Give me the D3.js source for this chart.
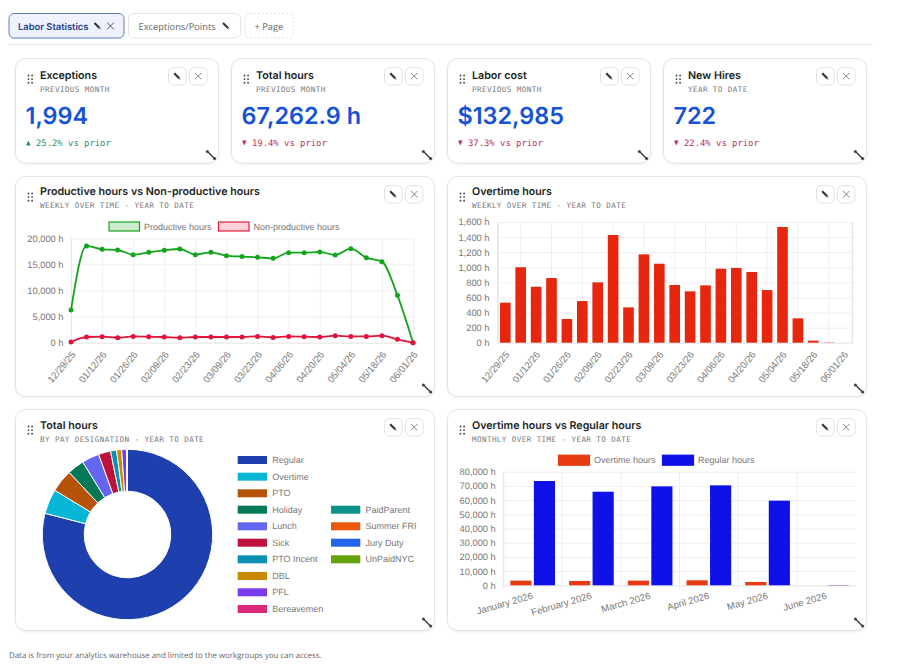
<!DOCTYPE html>
<html><head><meta charset="utf-8">
<script src="https://cdn.jsdelivr.net/npm/d3@7"></script>
<style>
html,body{margin:0;padding:0;background:#fff}
svg{display:block;text-rendering:geometricPrecision}
.ttl{font-family:Inter,"Open Sans",sans-serif;font-weight:600;fill:#1c1f26}
.sub{font-family:"DejaVu Sans Mono",monospace;fill:#77777a}
.ax text,.lg{font-family:"Liberation Sans",Arial,sans-serif;fill:#777}
</style></head><body>
<svg id="c" width="906" height="668"></svg>
<script>
const kpiTitles=["Exceptions","Total hours","Labor cost","New Hires"];
const kpiSubs=["PREVIOUS MONTH","PREVIOUS MONTH","PREVIOUS MONTH","YEAR TO DATE"];
const kpiValues=["1,994","67,262.9 h","$132,985","722"];
const kpiDeltas=["25.2% vs prior","19.4% vs prior","37.3% vs prior","22.4% vs prior"];
const kpiUp=[true,false,false,false];

const weeks=["12/29/25","01/05/26","01/12/26","01/19/26","01/26/26","02/02/26","02/09/26","02/16/26","02/23/26","03/02/26","03/09/26","03/16/26","03/23/26","03/30/26","04/06/26","04/13/26","04/20/26","04/27/26","05/04/26","05/11/26","05/18/26","05/25/26","06/01/26"];
const productive=[6260,18530,17890,17760,16870,17320,17700,17950,16870,17320,16680,16490,16360,16170,17250,17250,17380,16800,18020,16290,15530,9070,0];
const nonProductive=[130,1090,1150,960,1210,1150,1090,960,1090,1090,1090,1090,1210,1020,1210,1150,1090,1340,1210,1210,1340,640,0];
const overtimeWeekly=[530,1000,742,857,314,552,800,1428,468,1171,1047,765,681,760,981,990,937,698,1534,323,27,4,0];

const payTypes=["Regular","Overtime","PTO","Holiday","Lunch","Sick","PTO Incent","DBL","PFL","Bereavemen","PaidParent","Summer FRI","Jury Duty","UnPaidNYC"];
const payHours=[79.0,4.7,4.3,3.2,3.3,2.3,1.15,0.95,0.9,0.1,0.05,0.03,0.01,0.01];
const payColors=["#1e40af","#06b6d4","#b45309","#047857","#6366f1","#be123c","#0891b2","#ca8a04","#7c3aed","#db2777","#0d9488","#ea580c","#2563eb","#65a30d"];

const months=["January 2026","February 2026","March 2026","April 2026","May 2026","June 2026"];
const overtimeMonthly=[3300,3050,3300,3500,2350,0];
const regularMonthly=[73440,65900,69680,70400,59600,200];

const svg=d3.select("#c");
const hfmt=d=>d3.format(",")(d)+" h";

function pencil(g,cx,cy){
  g.append("line").attr("x1",cx-3).attr("y1",cy-3).attr("x2",cx+2.5).attr("y2",cy+2.5)
   .attr("stroke","#2a2d33").attr("stroke-width",2);
  g.append("path").attr("d",`M${cx+2},${cy+1} L${cx+4},${cy+4} L${cx+1},${cy+2} Z`).attr("fill","#999");
}
function cross(g,cx,cy,s,col){
  g.append("path").attr("d",`M${cx-s},${cy-s}L${cx+s},${cy+s}M${cx+s},${cy-s}L${cx-s},${cy+s}`)
   .attr("stroke",col).attr("stroke-width",1).attr("fill","none");
}
function card(x,y,w,h,title,sub,ty){
  const g=svg.append("g");
  g.append("rect").attr("x",x+.5).attr("y",y+.5).attr("width",w).attr("height",h).attr("rx",10)
   .attr("fill","#fff").attr("stroke","#e3e3e3").style("filter","drop-shadow(0 1px 1px rgba(0,0,0,.07))");
  for(let i=0;i<2;i++)for(let j=0;j<3;j++)
    g.append("circle").attr("cx",x+13.5+i*3.6).attr("cy",y+17.5+j*3.6).attr("r",.95).attr("fill","#4a4a4a");
  g.append("text").attr("class","ttl").attr("x",x+25).attr("y",y+20+ty).attr("font-size",10.7).text(title);
  g.append("text").attr("class","sub").attr("x",x+25).attr("y",y+32.7+ty).attr("font-size",7.6).attr("letter-spacing",.4).text(sub);
  const r=x+w;
  [[r-49.5,true],[r-28.5,false]].forEach(([bx,isPen])=>{
    g.append("rect").attr("x",bx).attr("y",y+9.5).attr("width",17.5).attr("height",17.5).attr("rx",5)
     .attr("fill","#fff").attr("stroke","#e2e2e2");
    if(isPen)pencil(g,bx+8.7,y+18.2);else cross(g,bx+8.7,y+18.2,3.2,"#888");
  });
  const cx=r-7,cy=y+h-7.5;
  g.append("line").attr("x1",cx-3.5).attr("y1",cy-3.5).attr("x2",cx+3.5).attr("y2",cy+3.5).attr("stroke","#444").attr("stroke-width",1.5);
  [[-3.6,-3.6],[3.6,3.6]].forEach(([a,b])=>g.append("circle").attr("cx",cx+a).attr("cy",cy+b).attr("r",1.5).attr("fill","#444"));
  return g;
}
function yAxis(sel,x0,x1,y,vals){
  const grid=sel.append("g").attr("transform",`translate(${x0},0)`)
    .call(d3.axisLeft(y).tickValues(vals).tickSize(-(x1-x0)).tickFormat(""));
  grid.select(".domain").remove();
  grid.selectAll("line").attr("stroke","#efefef");
  const a=sel.append("g").attr("class","ax").attr("transform",`translate(${x0},0)`)
    .call(d3.axisLeft(y).tickValues(vals).tickSize(0).tickPadding(7.5).tickFormat(hfmt));
  a.select(".domain").attr("stroke","#e8e8e8");
  a.selectAll("text").attr("font-size",9.3);
}
function rotatedLabels(sel,scale,vals,y0,rot,fs,dx,dy){
  const a=sel.append("g").attr("class","ax").attr("transform",`translate(0,${y0})`)
    .call(d3.axisBottom(scale).tickValues(vals).tickSize(0));
  a.select(".domain").remove();
  a.selectAll("text").attr("font-size",fs).attr("text-anchor","end").attr("y",0).attr("dy","0.35em")
   .attr("transform",`translate(${dx},${dy}) rotate(${rot})`);
}
function vGrid(sel,scale,vals,y0,h){
  const a=sel.append("g").attr("transform",`translate(0,${y0})`)
    .call(d3.axisBottom(scale).tickValues(vals).tickSize(-h).tickFormat(""));
  a.select(".domain").attr("stroke","#ddd");
  a.selectAll("line").attr("stroke","#efefef");
}
function legendItem(g,x,y,w,h,stroke,fill,label,fs){
  g.append("rect").attr("x",x).attr("y",y).attr("width",w).attr("height",h).attr("fill",fill).attr("stroke",stroke).attr("stroke-width",1.2);
  g.append("text").attr("class","lg").attr("x",x+w+4.5).attr("y",y+h/2).attr("dy",".35em").attr("font-size",fs).text(label);
}

// ---------- tabs
const tabs=svg.append("g");
tabs.append("rect").attr("x",9).attr("y",13.5).attr("width",115).attr("height",24.5).attr("rx",5).attr("fill","#eef2fd").attr("stroke","#5f7fb8");
tabs.append("text").attr("x",18).attr("y",29.5).attr("font-family","Inter,sans-serif").attr("font-weight",600).attr("font-size",9.4).attr("fill","#27408f").text("Labor Statistics");
pencil(tabs,97.5,26);cross(tabs,110.5,26,3.3,"#555");
tabs.append("rect").attr("x",128.5).attr("y",13.5).attr("width",112).attr("height",24.5).attr("rx",5).attr("fill","#fff").attr("stroke","#e3e3e3");
tabs.append("text").attr("x",138.5).attr("y",29.5).attr("font-family","'Open Sans',sans-serif").attr("font-size",9.3).attr("fill","#666").text("Exceptions/Points");
pencil(tabs,226,26);
tabs.append("rect").attr("x",245).attr("y",13.5).attr("width",48).attr("height",24.5).attr("rx",5).attr("fill","#fff").attr("stroke","#ddd").attr("stroke-dasharray","2 2");
tabs.append("text").attr("x",254.5).attr("y",29.5).attr("font-family","'Open Sans',sans-serif").attr("font-size",9.3).attr("fill","#666").text("+ Page");
tabs.append("line").attr("x1",8).attr("x2",873).attr("y1",44.5).attr("y2",44.5).attr("stroke","#e6e6e6");

// ---------- KPI cards
const kpiX=[15,231,447,663];
kpiTitles.forEach((t,i)=>{
  const x=kpiX[i],g=card(x,58,203,104.5,t,kpiSubs[i],1.2);
  g.append("text").attr("x",x+10.5).attr("y",124).attr("font-family","Inter,sans-serif").attr("font-weight",600)
   .attr("font-size",23.4).attr("fill","#1552d6").text(kpiValues[i]);
  const col=kpiUp[i]?"#2e8b68":"#b5305a";
  const tx=x+11,ty=142.5;
  g.append("path").attr("d",kpiUp[i]?`M${tx},${ty+3}L${tx+4.6},${ty+3}L${tx+2.3},${ty-2}Z`:`M${tx},${ty-2}L${tx+4.6},${ty-2}L${tx+2.3},${ty+3}Z`).attr("fill",col);
  g.append("text").attr("x",x+21).attr("y",145.5).attr("font-family","'DejaVu Sans Mono',monospace").attr("font-size",8.9).attr("fill",col).text(kpiDeltas[i]);
});

// ---------- line chart
{
  const g=card(15,176,419,220,"Productive hours vs Non-productive hours","WEEKLY OVER TIME - YEAR TO DATE",-1.2);
  const x=d3.scalePoint().domain(weeks).range([71,413]);
  const y=d3.scaleLinear().domain([0,20000]).range([342.7,238.3]);
  const labels=weeks.filter((d,i)=>i%2===0);
  vGrid(g,x,labels,342.7,104.4);
  yAxis(g,71,413,y,[0,5000,10000,15000,20000]);
  rotatedLabels(g,x,labels,342.7,-50,9.6,2,10);
  legendItem(g,109,222,30.5,9,"#16a31f","#cdeccf","Productive hours",9);
  legendItem(g,218.5,222,30.5,9,"#e0203c","#fbd0d6","Non-productive hours",9);
  [[productive,"#13a51c"],[nonProductive,"#e0143c"]].forEach(([vals,col])=>{
    g.append("path").datum(vals).attr("fill","none").attr("stroke",col).attr("stroke-width",1.8)
     .attr("d",d3.line().x((d,i)=>x(weeks[i])).y(d=>y(d)).curve(d3.curveMonotoneX));
    g.selectAll(null).data(vals).join("circle").attr("cx",(d,i)=>x(weeks[i])).attr("cy",d=>y(d)).attr("r",2.5).attr("fill",col);
  });
}

// ---------- overtime bars
{
  const g=card(447,176,419,220,"Overtime hours","WEEKLY OVER TIME - YEAR TO DATE",-1.2);
  const x=d3.scaleBand().domain(weeks).range([497.6,851.8]).paddingInner(.31).paddingOuter(.155);
  const y=d3.scaleLinear().domain([0,1600]).range([342.7,222]);
  vGrid(g,x,weeks.filter((d,i)=>i%2===1),342.7,120.7);
  yAxis(g,497,852,y,d3.range(0,1601,200));
  rotatedLabels(g,x,weeks.filter((d,i)=>i%2===0),342.7,-50,9.6,2,10);
  g.selectAll(null).data(overtimeWeekly).join("rect")
   .attr("x",(d,i)=>x(weeks[i])).attr("width",x.bandwidth()).attr("y",d=>y(d)).attr("height",d=>y(0)-y(d)).attr("fill","#e6260f");
}

// ---------- donut
{
  const g=card(15,409,419,221,"Total hours","BY PAY DESIGNATION - YEAR TO DATE",0);
  const pie=d3.pie().sort(null).value(d=>d);
  const arc=d3.arc().innerRadius(43.3).outerRadius(85.2);
  g.append("g").attr("transform","translate(127.5,534.5)").selectAll("path").data(pie(payHours)).join("path")
   .attr("d",arc).attr("fill",(d,i)=>payColors[i]).attr("stroke","#fff").attr("stroke-width",1);
  const rowY=[460,476.7,493.3,509.7,526.3,542.7,559.3,576,592.3,609];
  payTypes.forEach((t,i)=>{
    const col2=i>=10;
    const bx=col2?331:237.7, cy=col2?rowY[i-10+3]:rowY[i];
    g.append("rect").attr("x",bx).attr("y",cy-4).attr("width",29.3).attr("height",8).attr("fill",payColors[i]);
    g.append("text").attr("class","lg").attr("x",bx+34.5).attr("y",cy).attr("dy",".35em").attr("font-size",9).text(t);
  });
}

// ---------- monthly bars
{
  const g=card(447,409,419,221,"Overtime hours vs Regular hours","MONTHLY OVER TIME - YEAR TO DATE",0);
  const x=d3.scaleBand().domain(months).range([503.3,855.7]);
  const x1=d3.scaleBand().domain(["o","r"]).range([0,x.bandwidth()]).paddingInner(.1).paddingOuter(.3);
  const y=d3.scaleLinear().domain([0,80000]).range([585.3,471.7]);
  const a=g.append("g").attr("transform","translate(0,585.3)")
    .call(d3.axisBottom(x).tickValues([]).tickSize(0));
  a.select(".domain").attr("stroke","#ddd");
  g.selectAll(null).data(months).join("line").attr("x1",d=>x(d)).attr("x2",d=>x(d)).attr("y1",471.7).attr("y2",590).attr("stroke","#efefef");
  yAxis(g,503.3,855.7,y,d3.range(0,80001,10000));
  rotatedLabels(g,x,months,585.3,-16,9.6,0,10);
  const series=[["o",overtimeMonthly,"#e63a10"],["r",regularMonthly,"#1010e8"]];
  series.forEach(([k,vals,col])=>{
    g.selectAll(null).data(vals).join("rect")
     .attr("x",(d,i)=>x(months[i])+x1(k)).attr("width",x1.bandwidth()).attr("y",d=>y(d)).attr("height",d=>y(0)-y(d)).attr("fill",col);
  });
  legendItem(g,558.5,455.2,31,10,"#e63a10","#e63a10","Overtime hours",9);
  legendItem(g,662.5,455.2,31,10,"#1010e8","#1010e8","Regular hours",9);
}

svg.append("text").attr("x",9).attr("y",658).attr("font-family","'Open Sans',sans-serif").attr("font-size",7.9).attr("fill","#666")
  .text("Data is from your analytics warehouse and limited to the workgroups you can access.");
</script>
</body></html>
